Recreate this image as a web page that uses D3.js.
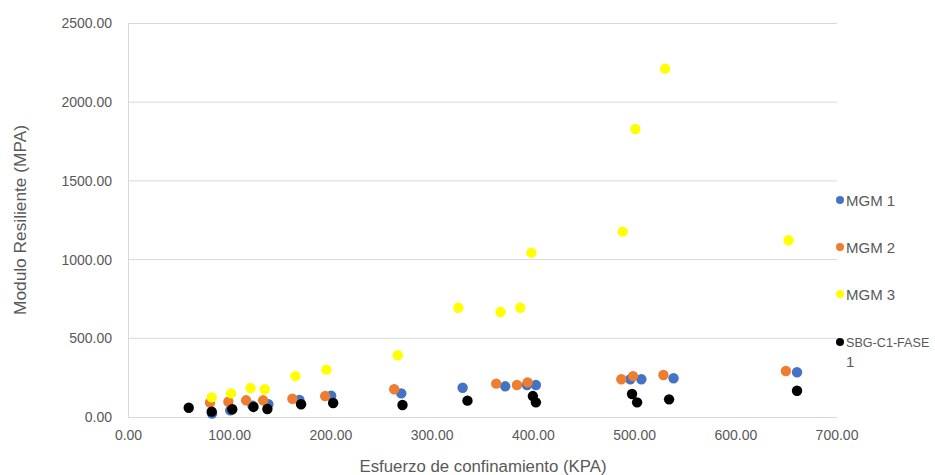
<!DOCTYPE html>
<html><head><meta charset="utf-8">
<script src="https://cdn.jsdelivr.net/npm/d3@7"></script>
<style>
body{margin:0;background:#fff;}
text{font-family:"Liberation Sans",Arial,sans-serif;fill:#595959;}
</style></head>
<body><svg id="c" width="935" height="475"></svg>
<script>
const seriesNames = ["MGM 1","MGM 2","MGM 3","SBG-C1-FASE 1"];
const seriesColors = ["#4472C4","#ED7D31","#FFFF00","#000000"];
const mgm1X = [83,101,123,138.7,169.4,200.7,270,330.6,372.7,394.2,403,496.3,507.2,539,661];
const mgm1Y = [22,42,72,81,108,135,150,186,195,203,203,240,240,246,284];
const mgm2X = [81,99.2,116.7,133.5,162.4,194.8,263,363.8,384.3,394.8,487.4,499,529,650];
const mgm2Y = [91,97,106,106,116,133,176,212,203,220,240,260,267,292];
const mgm3X = [82.7,101.8,121,135,165.4,196,266.6,326.4,368,387.6,398.5,488.7,501.3,530.7,652.6];
const mgm3Y = [125,150,184,176,260,301,392,694,667,694,1044,1178,1830,2213,1123];
const sbgX = [60,82.7,103,124,137.7,171,202.7,271.2,335.4,400,403,498,503,534.6,661];
const sbgY = [59,34,49,64,51,81,89,76,104,133,93,146,93,112,167];
const xTicks = [0,100,200,300,400,500,600,700];
const yTicks = [0,500,1000,1500,2000,2500];
const xTitle = "Esfuerzo de confinamiento (KPA)";
const yTitle = "Modulo Resiliente (MPA)";

const series = [
  {name:seriesNames[0], color:seriesColors[0], xs:mgm1X, ys:mgm1Y},
  {name:seriesNames[1], color:seriesColors[1], xs:mgm2X, ys:mgm2Y},
  {name:seriesNames[2], color:seriesColors[2], xs:mgm3X, ys:mgm3Y},
  {name:seriesNames[3], color:seriesColors[3], xs:sbgX, ys:sbgY}
];

const svg = d3.select("#c");
const x = d3.scaleLinear().domain([0,700]).range([128,836.5]);
const y = d3.scaleLinear().domain([0,2500]).range([417,23.5]);

// gridlines
svg.append("g").selectAll("line").data(yTicks.filter(d=>d>0)).join("line")
  .attr("x1",128).attr("x2",837).attr("y1",d=>y(d)).attr("y2",d=>y(d))
  .attr("stroke","#d9d9d9").attr("stroke-width",1);

// axes
const yAxis = svg.append("g").attr("transform","translate(128,0)")
  .call(d3.axisLeft(y).tickValues(yTicks).tickFormat(d3.format(".2f")).tickSize(0).tickPadding(16));
yAxis.select(".domain").attr("stroke","#d9d9d9");
yAxis.selectAll("text").style("font-size","14px").attr("fill","#595959");

const xAxis = svg.append("g").attr("transform","translate(0,417)")
  .call(d3.axisBottom(x).tickValues(xTicks).tickFormat(d3.format(".2f")).tickSize(0).tickPadding(13));
xAxis.select(".domain").attr("stroke","#d9d9d9").attr("d","M128,0.5H837");
xAxis.selectAll("text").style("font-size","14px").attr("fill","#595959");

// points
series.forEach(s=>{
  svg.append("g").selectAll("circle").data(s.xs.map((v,i)=>[v,s.ys[i]])).join("circle")
    .attr("cx",d=>x(d[0])).attr("cy",d=>y(d[1])).attr("r",5.2)
    .attr("fill",s.color);
});

// titles
svg.append("text").attr("x",483).attr("y",472).attr("text-anchor","middle")
  .attr("textLength",247).attr("lengthAdjust","spacingAndGlyphs")
  .style("font-size","16px").text(xTitle);
svg.append("text").attr("transform","translate(26,220) rotate(-90)").attr("text-anchor","middle")
  .attr("textLength",190).attr("lengthAdjust","spacingAndGlyphs")
  .style("font-size","16px").text(yTitle);

// legend
const legY = [200,247,294,342];
const leg = svg.append("g");
series.forEach((s,i)=>{
  leg.append("circle").attr("cx",840).attr("cy",legY[i]).attr("r",4).attr("fill",s.color);
  const t = leg.append("text").attr("x",846).attr("y",legY[i]+5.5).style("font-size","15px");
  if (i===3) {
    t.style("font-size","12.6px").attr("y",legY[i]+5);
    t.append("tspan").attr("x",846).text("SBG-C1-FASE");
    t.append("tspan").attr("x",846).attr("dy",20).style("font-size","15px").text("1");
  } else t.text(s.name);
});
</script></body></html>
